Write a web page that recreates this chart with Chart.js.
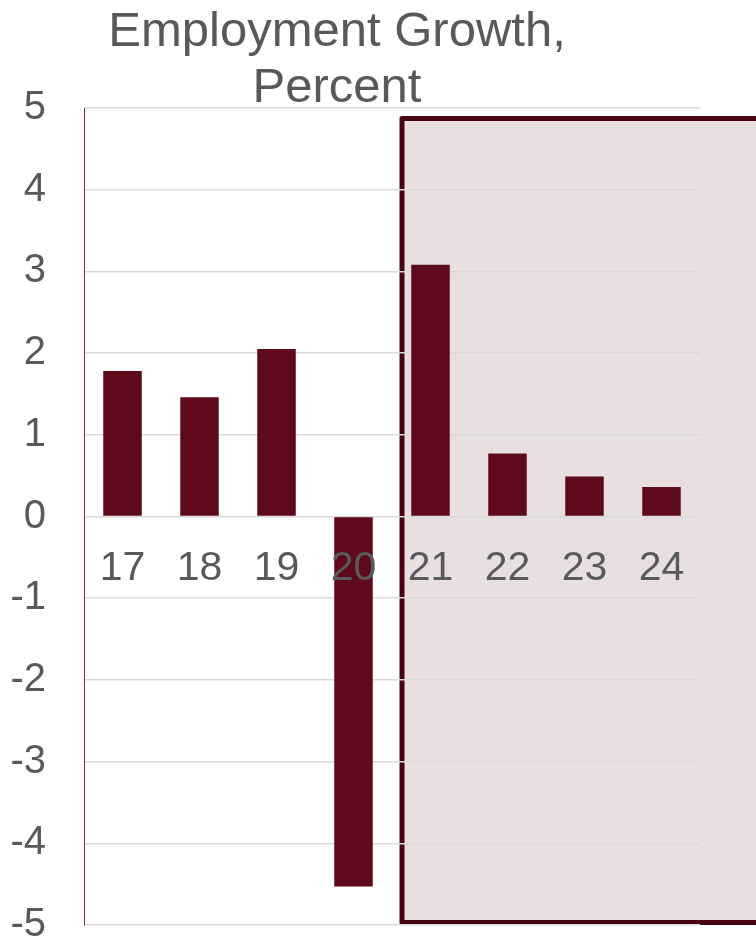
<!DOCTYPE html>
<html>
<head>
<meta charset="utf-8">
<script src="https://cdn.jsdelivr.net/npm/chart.js@4/dist/chart.umd.min.js"></script>
<style>
  html, body { margin: 0; padding: 0; background: #fff; }
  #wrap { width: 756px; height: 942px; position: relative; }
</style>
</head>
<body>
<div id="wrap"><canvas id="chart"></canvas></div>
<script>
// --- DATA ---
const years = ['17', '18', '19', '20', '21', '22', '23', '24'];
const growth = [1.78, 1.46, 2.05, -4.53, 3.08, 0.77, 0.49, 0.36];
const titleLines = ['Employment Growth,', 'Percent'];

// shaded forecast box (in axis units)
const shadeFromIndex = 3.63;
const shadeTop = 4.87;
const shadeBottom = -4.97;

const FONT = '"Liberation Sans", Arial, sans-serif';
const GREY = '#595959';
const BAR = '#5e0a1b';

// box behind the forecast years
const shadePlugin = {
    id: 'shade',
    beforeDraw(chart) {
        const { ctx } = chart;
        const x = chart.scales.x, y = chart.scales.y;
        const left = x.getPixelForValue(shadeFromIndex);
        const top = y.getPixelForValue(shadeTop);
        const bottom = y.getPixelForValue(shadeBottom);
        const right = chart.width + 10;
        ctx.save();
        ctx.fillStyle = '#e9dfe1';
        ctx.fillRect(left, top, right - left, bottom - top);
        ctx.strokeStyle = '#4a0312';
        ctx.lineWidth = 5;
        ctx.lineJoin = 'round';
        ctx.strokeRect(left, top, right - left, bottom - top);
        ctx.restore();
    }
};

// title drawn by hand so it can sit left of centre like the original
const titlePlugin = {
    id: 'leftTitle',
    afterDraw(chart) {
        const { ctx } = chart;
        ctx.save();
        ctx.fillStyle = GREY;
        ctx.font = '49px ' + FONT;
        ctx.textAlign = 'center';
        ctx.textBaseline = 'middle';
        titleLines.forEach((line, i) => ctx.fillText(line, 337, 32 + i * 56));
        ctx.restore();
    }
};

new Chart(document.getElementById('chart'), {
    type: 'bar',
    data: {
        labels: years,
        datasets: [{
            data: growth,
            backgroundColor: BAR,
            barPercentage: 0.5,
            categoryPercentage: 1.0
        }]
    },
    options: {
        responsive: true,
        maintainAspectRatio: false,
        animation: false,
        layout: { padding: { top: 108, right: 56, bottom: 17, left: 0 } },
        plugins: {
            legend: { display: false },
            title: { display: false },
            tooltip: { enabled: false }
        },
        scales: {
            x: {
                position: { y: 0 },
                grid: { display: false, drawTicks: false },
                border: { display: false },
                ticks: {
                    z: 1, // year labels go over the bars (the "20" sits on its bar)
                    color: GREY,
                    padding: 28,
                    font: { size: 41, family: FONT },
                    maxRotation: 0,
                    autoSkip: false
                },
                // labels sit on the zero line, so no room is needed below
                afterFit(scale) { scale.height = 0; }
            },
            y: {
                min: -5,
                max: 5,
                grid: { color: '#d9d9d9', lineWidth: 1.5, drawTicks: false },
                border: { display: true, color: '#7b2a3a', width: 1 },
                ticks: {
                    stepSize: 1,
                    color: GREY,
                    padding: 38,
                    font: { size: 40, family: FONT, lineHeight: 0.8 }
                },
                afterFit(scale) {
                    scale.width = 84;
                    scale.paddingTop = 0;
                    scale.paddingBottom = 0;
                }
            }
        }
    },
    plugins: [shadePlugin, titlePlugin]
});
</script>
</body>
</html>
